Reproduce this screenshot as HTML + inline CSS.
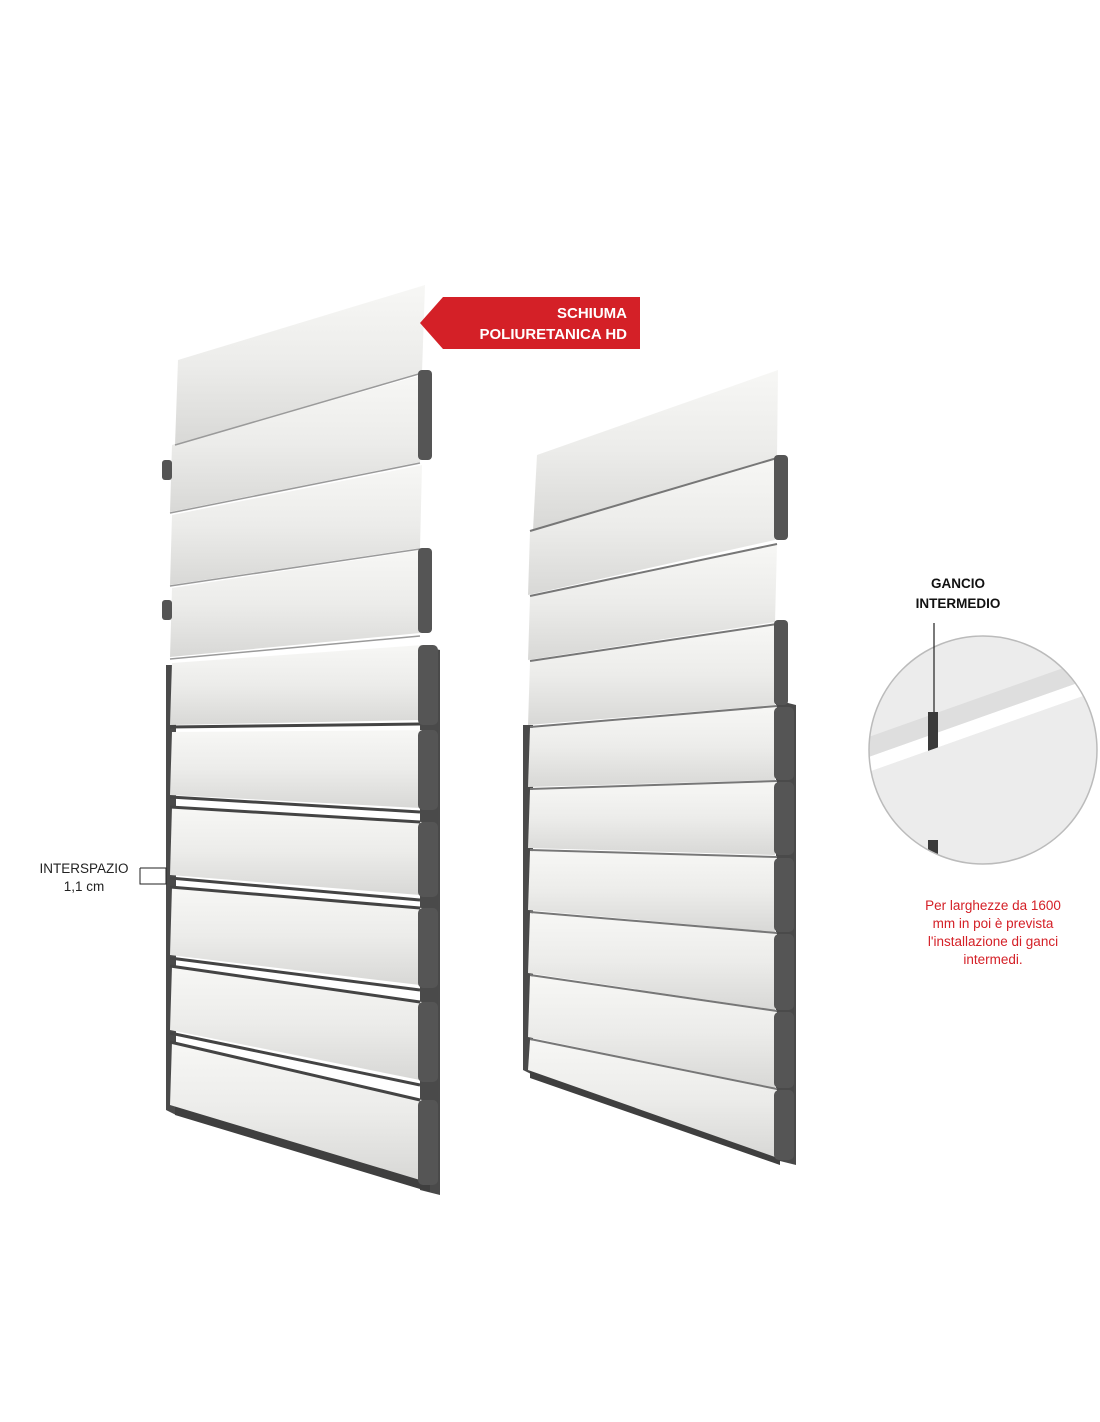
<!DOCTYPE html>
<html><head><meta charset="utf-8"><style>
html,body{margin:0;padding:0;background:#fff;}
svg{display:block;font-family:"Liberation Sans",sans-serif;}
</style></head><body>
<svg width="1100" height="1422" viewBox="0 0 1100 1422" xmlns="http://www.w3.org/2000/svg">
<defs>
<linearGradient id="sl" x1="0" y1="0" x2="0" y2="1">
<stop offset="0" stop-color="#f7f7f5"/><stop offset="0.5" stop-color="#ececea"/><stop offset="1" stop-color="#d8d8d6"/>
</linearGradient>
<clipPath id="cc"><circle cx="983" cy="750" r="114"/></clipPath>
</defs>
<rect width="1100" height="1422" fill="#fff"/>

<!-- LEFT SHUTTER -->
<g stroke="none">
<!-- dark rails under lower slats -->
<polygon points="166,665 176,665 176,1115 166,1110" fill="#4a4a4a"/>
<polygon points="420,645 440,650 440,1195 420,1190" fill="#4a4a4a"/>
<polygon points="175,1105 430,1180 430,1192 175,1115" fill="#3f3f3f"/>
<!-- slats: left top, left bottom, right top, right bottom -->
<polygon points="178,360 175,445 422,372 425,285" fill="url(#sl)"/>
<polygon points="172,445 170,512 420,462 422,375" fill="url(#sl)"/>
<polygon points="172,515 170,585 420,548 422,465" fill="url(#sl)"/>
<polygon points="172,588 170,657 420,633 422,550" fill="url(#sl)"/>
<polygon points="172,663 170,725 420,720 422,645" fill="url(#sl)"/>
<polygon points="172,732 170,795 420,808 422,730" fill="url(#sl)"/>
<polygon points="172,807 170,875 420,895 422,822" fill="url(#sl)"/>
<polygon points="172,887 170,955 420,985 422,908" fill="url(#sl)"/>
<polygon points="172,966 170,1030 420,1080 422,1002" fill="url(#sl)"/>
<polygon points="172,1042 170,1105 420,1180 422,1100" fill="url(#sl)"/>
<!-- slat separator lines -->
<g stroke="#9a9a9a" stroke-width="1.5">
<line x1="175" y1="445" x2="422" y2="373"/><line x1="170" y1="513" x2="420" y2="463"/>
<line x1="170" y1="586" x2="420" y2="549"/><line x1="170" y1="659" x2="420" y2="636"/>
</g>
<g stroke="#444" stroke-width="3">
<line x1="170" y1="727" x2="420" y2="724"/><line x1="170" y1="797" x2="420" y2="812"/>
<line x1="170" y1="878" x2="420" y2="900"/><line x1="170" y1="958" x2="420" y2="990"/>
<line x1="170" y1="1033" x2="420" y2="1085"/>
<line x1="170" y1="807" x2="420" y2="822"/><line x1="170" y1="887" x2="420" y2="908"/>
<line x1="170" y1="966" x2="420" y2="1002"/><line x1="170" y1="1042" x2="420" y2="1100"/>
</g>
<!-- end caps -->
<g fill="#555">
<rect x="418" y="370" width="14" height="90" rx="4"/>
<rect x="418" y="548" width="14" height="85" rx="4"/>
<rect x="418" y="645" width="20" height="80" rx="5"/>
<rect x="418" y="730" width="20" height="80" rx="5"/>
<rect x="418" y="822" width="20" height="75" rx="5"/>
<rect x="418" y="908" width="20" height="80" rx="5"/>
<rect x="418" y="1002" width="20" height="80" rx="5"/>
<rect x="418" y="1100" width="20" height="85" rx="5"/>
<rect x="162" y="460" width="10" height="20" rx="3"/>
<rect x="162" y="600" width="10" height="20" rx="3"/>
</g>
</g>

<!-- RIGHT SHUTTER -->
<g>
<polygon points="523,725 533,725 533,1075 523,1070" fill="#4a4a4a"/>
<polygon points="776,700 796,705 796,1165 776,1160" fill="#4a4a4a"/>
<polygon points="530,1070 780,1155 780,1165 530,1078" fill="#3f3f3f"/>
<polygon points="537,455 533,530 777,457 778,370" fill="url(#sl)"/>
<polygon points="530,532 528,595 775,540 777,458" fill="url(#sl)"/>
<polygon points="530,597 528,660 775,622 777,545" fill="url(#sl)"/>
<polygon points="530,662 528,725 775,705 777,625" fill="url(#sl)"/>
<polygon points="530,728 528,787 775,780 777,707" fill="url(#sl)"/>
<polygon points="530,790 528,848 775,855 777,782" fill="url(#sl)"/>
<polygon points="530,851 528,910 775,932 777,858" fill="url(#sl)"/>
<polygon points="530,913 528,973 775,1010 777,934" fill="url(#sl)"/>
<polygon points="530,976 528,1037 775,1088 777,1012" fill="url(#sl)"/>
<polygon points="530,1040 528,1070 775,1157 777,1090" fill="url(#sl)"/>
<g stroke="#777" stroke-width="2">
<line x1="530" y1="531" x2="777" y2="458"/><line x1="530" y1="596" x2="777" y2="544"/>
<line x1="530" y1="661" x2="777" y2="624"/><line x1="530" y1="727" x2="777" y2="706"/>
<line x1="530" y1="789" x2="777" y2="781"/><line x1="530" y1="850" x2="777" y2="857"/>
<line x1="530" y1="912" x2="777" y2="933"/><line x1="530" y1="975" x2="777" y2="1011"/>
<line x1="530" y1="1039" x2="777" y2="1089"/>
</g>
<g fill="#555">
<rect x="774" y="455" width="14" height="85" rx="4"/>
<rect x="774" y="620" width="14" height="85" rx="4"/>
<rect x="774" y="707" width="20" height="73" rx="5"/>
<rect x="774" y="782" width="20" height="73" rx="5"/>
<rect x="774" y="858" width="20" height="74" rx="5"/>
<rect x="774" y="934" width="20" height="76" rx="5"/>
<rect x="774" y="1012" width="20" height="76" rx="5"/>
<rect x="774" y="1090" width="20" height="70" rx="5"/>
</g>
</g>

<!-- red label -->
<polygon points="443,297 640,297 640,349 443,349 420,323" fill="#d42027"/>
<text x="627" y="318" font-size="15" font-weight="bold" fill="#fff" text-anchor="end">SCHIUMA</text>
<text x="627" y="339" font-size="15" font-weight="bold" fill="#fff" text-anchor="end">POLIURETANICA HD</text>

<!-- interspazio -->
<text x="84" y="873" font-size="13.5" fill="#222" text-anchor="middle">INTERSPAZIO</text>
<text x="84" y="891" font-size="13.5" fill="#222" text-anchor="middle">1,1 cm</text>
<polyline points="140,868 166,868 166,884 140,884 140,868" fill="none" stroke="#222" stroke-width="1"/>

<!-- circle detail -->
<g clip-path="url(#cc)">
<rect x="860" y="630" width="250" height="240" fill="#ececec"/>
<polygon points="860,760 1100,675 1100,690 860,775" fill="#fff"/>
<polygon points="860,740 1100,655 1100,675 860,760" fill="#dedede"/>
<rect x="928" y="712" width="10" height="160" fill="#3a3a3a"/>
<polygon points="860,775 1100,690 1100,870 860,870" fill="#ececec"/>
<rect x="928" y="840" width="10" height="30" fill="#3a3a3a"/>
</g>
<circle cx="983" cy="750" r="114" fill="none" stroke="#bbb" stroke-width="1.5"/>
<line x1="934" y1="623" x2="934" y2="712" stroke="#222" stroke-width="1.2"/>
<text x="958" y="588" font-size="13.5" font-weight="bold" fill="#111" text-anchor="middle">GANCIO</text>
<text x="958" y="608" font-size="13.5" font-weight="bold" fill="#111" text-anchor="middle">INTERMEDIO</text>

<g font-size="13.5" fill="#d42027" text-anchor="middle">
<text x="993" y="910">Per larghezze da 1600</text>
<text x="993" y="928">mm in poi è prevista</text>
<text x="993" y="946">l'installazione di ganci</text>
<text x="993" y="964">intermedi.</text>
</g>
</svg>
</body></html>
